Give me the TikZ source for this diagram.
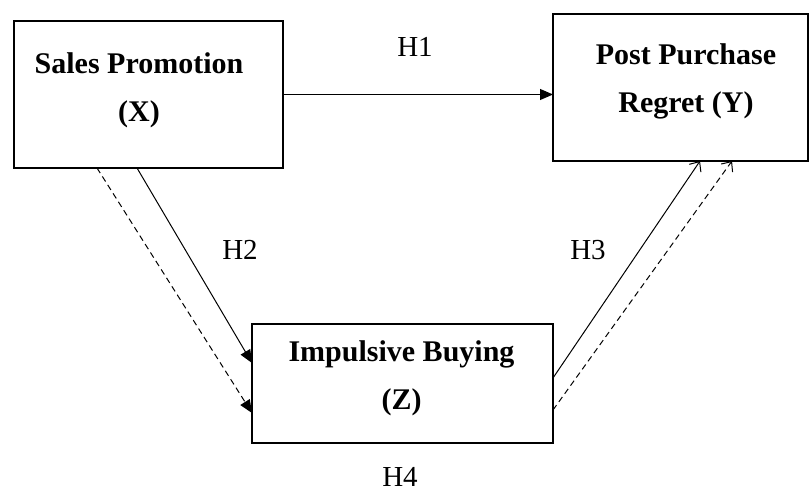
\documentclass[tikz,border=0pt]{standalone}
\usepackage{fontspec}
\setmainfont{Liberation Serif}
\usetikzlibrary{arrows.meta,calc}
\begin{document}
\begin{tikzpicture}[x=1pt,y=1pt,
  box/.style={draw, line width=1.4pt, inner sep=0pt, outer sep=0pt},
  boxtext/.style={align=center, inner sep=0pt, font=\fontsize{30}{48}\selectfont\bfseries},
  hlab/.style={inner sep=0pt, font=\fontsize{29}{34}\selectfont},
  link/.style={line width=1pt},
  fillhead/.style={-{Triangle[length=13pt,width=11pt]}},
  openhead/.style={-{Straight Barb[length=8pt,width=14pt,line width=1pt]}}
]
\path[use as bounding box] (0,0) rectangle (810,494);

\node[box, minimum width=269pt, minimum height=147pt] (X) at (148.5,399.5) {};
\node[box, minimum width=255pt, minimum height=147pt] (Y) at (680.5,406.5) {};
\node[box, minimum width=301pt, minimum height=119pt] (Z) at (402.5,110.5) {};

\node[boxtext] (Xt) at (139,404) {Sales Promotion\\(X)};
\node[boxtext] (Yt) at (686,413) {Post Purchase\\Regret (Y)};
\node[boxtext] (Zt) at (401.5,115.5) {Impulsive Buying\\(Z)};

\node[hlab] (H1) at (415,447) {H1};
\node[hlab] (H2) at (240,244) {H2};
\node[hlab] (H3) at (588,244) {H3};
\node[hlab] (H4) at (400,17) {H4};

\coordinate (xs1) at ($(X.south west)+(123,0)$);
\coordinate (xs2) at ($(X.south west)+(83,0)$);
\coordinate (zw1) at ($(Z.west)+(0,20.5)$);
\coordinate (zw2) at ($(Z.west)+(0,-29.5)$);
\coordinate (ze1) at ($(Z.east)+(0,5.5)$);
\coordinate (ze2) at ($(Z.east)+(0,-26.5)$);
\coordinate (ys1) at ($(Y.south west)+(147,0)$);
\coordinate (ys2) at ($(Y.south west)+(179,0)$);

\draw[link, fillhead] (X.east) -- (X.east -| Y.west);
\draw[link, fillhead] (xs1) -- (zw1);
\draw[link, fillhead, dash pattern=on 6pt off 4pt] (xs2) -- (zw2);
\draw[link, openhead] (ze1) -- (ys1);
\draw[link, openhead, dash pattern=on 6pt off 4pt] (ze2) -- (ys2);
\end{tikzpicture}
\end{document}
